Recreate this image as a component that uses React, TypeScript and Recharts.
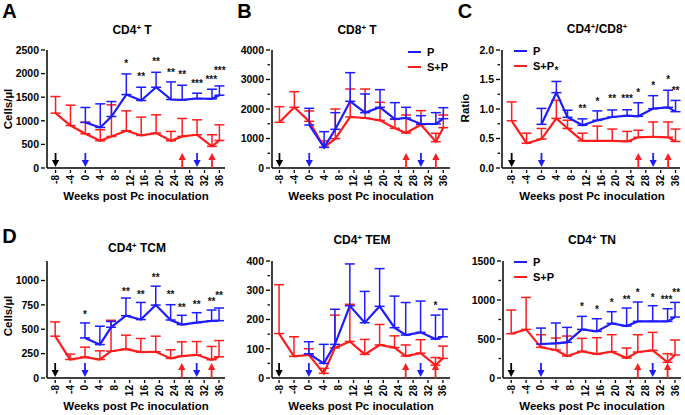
import React from "react";
import { ComposedChart, Line, XAxis, YAxis, ErrorBar, ReferenceDot } from "recharts";

const BLUE = "#1c1cff";
const RED = "#ff1c1c";
const FONT = '"Liberation Sans", Arial, sans-serif';

// sampling weeks (relative to Pc inoculation)
const spWeeks = [-8, -4, 0, 4, 7, 11, 15, 19, 23, 26, 30, 34, 36];
const pWeeks = [0, 4, 7, 11, 15, 19, 23, 26, 30, 34, 36];
const xTicks = [-8, -4, 0, 4, 8, 12, 16, 20, 24, 28, 32, 36];

// treatment arrows along the x axis
const arrowWeeks = [-8, 0, 26, 30, 34];
const arrowColors = ["#000", BLUE, RED, BLUE, RED];
const arrowUp = [false, false, true, false, true];

// A: CD4+ T
const cd4tP = [965, 859, 1091, 1556, 1430, 1711, 1451, 1444, 1472, 1465, 1542];
const cd4tPSd = [317, 500, 317, 437, 281, 317, 373, 309, 112, 204, 197];
const cd4tSP = [1162, 901, 725, 577, 669, 789, 690, 739, 577, 669, 704, 458, 584];
const cd4tSPSd = [352, 430, 247, 233, 669, 422, 387, 388, 198, 380, 317, 246, 331];
const cd4tStarWeeks = [11, 15, 19, 23, 26, 30, 33.8, 36.1];
const cd4tStarLevels = [2253, 1972, 2289, 2063, 2021, 1831, 1916, 2113];
const cd4tStars = ["*", "**", "**", "**", "**", "***", "***", "***"];

// B: CD8+ T
const cd8tP = [1458, 700, 1311, 2260, 1876, 2057, 1661, 1695, 1492, 1492, 1672];
const cd8tPSd = [565, 532, 565, 972, 633, 599, 554, 362, 282, 384, 373];
const cd8tSP = [1548, 2057, 1582, 700, 994, 1729, 1695, 1616, 1345, 1187, 1469, 893, 1367];
const cd8tSPSd = [531, 531, 350, 215, 1006, 949, 983, 610, 305, 610, 475, 282, 430];

// C: CD4/CD8 ratio
const ratioP = [0.74, 1.277, 0.859, 0.723, 0.808, 0.864, 0.887, 0.876, 1.006, 1.028, 0.955];
const ratioPSd = [0.27, 0.19, 0.12, 0.11, 0.16, 0.12, 0.1, 0.23, 0.22, 0.29, 0.19];
const ratioSP = [0.8, 0.42, 0.49, 0.84, 0.67, 0.46, 0.46, 0.46, 0.45, 0.52, 0.53, 0.52, 0.45];
const ratioSPSd = [0.32, 0.17, 0.18, 0.31, 0.14, 0.13, 0.25, 0.2, 0.17, 0.12, 0.25, 0.26, 0.21];
const ratioStarWeeks = [4, 11, 15, 19, 23, 26, 30, 34, 36];
const ratioStarLevels = [1.68, 1.04, 1.16, 1.21, 1.21, 1.32, 1.435, 1.53, 1.35];
const ratioStars = ["*", "**", "*", "**", "***", "*", "*", "*", "**"];

// D: CD4+ TCM
const tcmP = [411, 343, 520, 639, 599, 748, 595, 548, 568, 585, 588];
const tcmPSd = [154, 188, 60, 181, 176, 194, 157, 95, 102, 112, 130];
const tcmSP = [429, 190, 214, 190, 275, 296, 265, 269, 201, 224, 238, 187, 218];
const tcmSPSd = [146, 55, 102, 89, 317, 143, 140, 160, 88, 147, 136, 136, 166];
const tcmStarWeeks = [0, 11, 15, 19, 23, 26, 30, 34, 36];
const tcmStarLevels = [670, 908, 881, 1051, 874, 745, 779, 806, 871];
const tcmStars = ["*", "**", "**", "**", "**", "**", "**", "**", "**"];

// E: CD4+ TEM
const temP = [83, 50, 115, 247, 189, 245, 172, 147, 156, 133, 141];
const temPSd = [41, 65, 120, 143, 107, 129, 108, 111, 107, 82, 94];
const temSP = [152, 74, 79, 16, 103, 125, 81, 113, 104, 75, 85, 44, 67];
const temSPSd = [167, 67, 21, 17, 112, 127, 51, 70, 40, 38, 46, 26, 42];
const temStarWeeks = [34];
const temStarLevels = [255];
const temStars = ["*"];

// F: CD4+ TN
const tnP = [436, 444, 457, 623, 598, 700, 666, 726, 726, 726, 781];
const tnPSd = [204, 261, 192, 167, 162, 150, 231, 248, 201, 162, 188];
const tnSP = [568, 623, 393, 359, 282, 342, 307, 337, 256, 333, 354, 201, 295];
const tnSPSd = [303, 410, 162, 153, 256, 166, 210, 218, 128, 222, 231, 111, 192];
const tnStarWeeks = [11, 15, 19, 23, 26, 30, 33.7, 36.3];
const tnStarLevels = [939, 910, 991, 1038, 1119, 1059, 1033, 1123];
const tnStars = ["*", "*", "*", "**", "*", "*", "***", "**"];

const Y_W = 45;
const PLOT_W = 178;
const WEEK_SPAN = 47.8;

const XTick = (props: any) => {
  const { x, y, payload } = props;
  const ty = y + 5;
  return (
    <g>
      <line x1={x} x2={x} y1={y} y2={y + 3} stroke="#000" strokeWidth={1.3} />
      <text
        x={x}
        y={ty}
        dy="0.35em"
        transform={`rotate(-90 ${x} ${ty})`}
        textAnchor="end"
        fontFamily={FONT}
        fontWeight={700}
        fontSize={10}
        fill="#000"
      >
        {payload.value}
      </text>
    </g>
  );
};

const YTick = (props: any) => {
  const { x, y, payload, majors, fmt } = props;
  const major = majors.includes(payload.value);
  return (
    <g>
      <line x1={x} x2={x - (major ? 4 : 2.5)} y1={y} y2={y} stroke="#000" strokeWidth={1.3} />
      {major && (
        <text x={x - 6} y={y} dy="0.36em" textAnchor="end" fontFamily={FONT} fontWeight={700} fontSize={10.5} fill="#000">
          {fmt ? fmt(payload.value) : payload.value}
        </text>
      )}
    </g>
  );
};

function Arrow({ cx, cy, color, up }: { cx: number; cy: number; color: string; up: boolean }) {
  const len = 15;
  const head = 7;
  const hw = 3.6;
  if (up) {
    const tip = cy - len;
    return (
      <g>
        <line x1={cx} x2={cx} y1={cy} y2={tip + head - 1} stroke={color} strokeWidth={1.8} />
        <polygon points={`${cx},${tip} ${cx - hw},${tip + head} ${cx + hw},${tip + head}`} fill={color} />
      </g>
    );
  }
  const tip = cy - 1;
  return (
    <g>
      <line x1={cx} x2={cx} y1={cy - len} y2={tip - head + 1} stroke={color} strokeWidth={1.8} />
      <polygon points={`${cx},${tip} ${cx - hw},${tip - head} ${cx + hw},${tip - head}`} fill={color} />
    </g>
  );
}

type PanelProps = {
  plotLeft: number;
  plotTop: number;
  plotHeight: number;
  xMin: number;
  yMax: number;
  yMajor: number[];
  yMinor: number[];
  yFmt?: (v: number) => string;
  p: number[];
  pSd: number[];
  sp: number[];
  spSd: number[];
  starWeeks: number[];
  starLevels: number[];
  stars: string[];
};

function Panel(props: PanelProps) {
  const { plotLeft, plotTop, plotHeight, xMin, yMax, yMajor, yMinor, yFmt, p, pSd, sp, spSd } = props;
  const pData = pWeeks.map((week, i) => ({ week, value: p[i], err: [0, pSd[i]] }));
  const spData = spWeeks.map((week, i) => ({ week, value: sp[i], err: [0, spSd[i]] }));
  const yTicks = [...yMajor, ...yMinor].sort((a, b) => a - b);

  return (
    <div style={{ position: "absolute", left: plotLeft - Y_W, top: plotTop - 5 }}>
      <ComposedChart width={Y_W + PLOT_W + 4} height={5 + plotHeight + 30} margin={{ top: 5, right: 4, bottom: 0, left: 0 }}>
        <XAxis
          type="number"
          dataKey="week"
          domain={[xMin, xMin + WEEK_SPAN]}
          allowDataOverflow
          ticks={xTicks}
          interval={0}
          height={30}
          tickSize={0}
          tickLine={false}
          axisLine={{ stroke: "#000", strokeWidth: 1.5 }}
          tick={<XTick />}
        />
        <YAxis
          type="number"
          domain={[0, yMax]}
          allowDataOverflow
          ticks={yTicks}
          interval={0}
          width={Y_W}
          tickSize={0}
          tickLine={false}
          axisLine={{ stroke: "#000", strokeWidth: 1.5 }}
          tick={<YTick majors={yMajor} fmt={yFmt} />}
        />
        <Line data={spData} dataKey="value" stroke={RED} strokeWidth={2.2} dot={false} activeDot={false} isAnimationActive={false}>
          <ErrorBar dataKey="err" width={5} stroke={RED} strokeWidth={1.5} direction="y" />
        </Line>
        <Line data={pData} dataKey="value" stroke={BLUE} strokeWidth={2.2} dot={false} activeDot={false} isAnimationActive={false}>
          <ErrorBar dataKey="err" width={5} stroke={BLUE} strokeWidth={1.5} direction="y" />
        </Line>
        {arrowWeeks.map((w, i) => (
          <ReferenceDot
            key={`arrow-${i}`}
            x={w}
            y={0}
            r={0}
            ifOverflow="visible"
            shape={(s: any) => <Arrow cx={s.cx} cy={s.cy} color={arrowColors[i]} up={arrowUp[i]} />}
          />
        ))}
        {props.starWeeks.map((w, i) => (
          <ReferenceDot
            key={`star-${i}`}
            x={w}
            y={props.starLevels[i]}
            r={0}
            ifOverflow="visible"
            shape={(s: any) => (
              <text x={s.cx} y={s.cy + 5.5} textAnchor="middle" fontFamily={FONT} fontWeight={700} fontSize={10} fill="#111">
                {props.stars[i]}
              </text>
            )}
          />
        ))}
      </ComposedChart>
    </div>
  );
}

const textBase: React.CSSProperties = {
  position: "absolute",
  fontFamily: FONT,
  fontWeight: 700,
  color: "#000",
  lineHeight: 1,
  whiteSpace: "nowrap",
  transform: "translate(-50%, -50%)",
};

function Label({ x, y, size, children, rotate }: { x: number; y: number; size: number; children: React.ReactNode; rotate?: boolean }) {
  return (
    <div style={{ ...textBase, left: x, top: y, fontSize: size, transform: rotate ? "translate(-50%, -50%) rotate(-90deg)" : textBase.transform }}>
      {children}
    </div>
  );
}

const Sup = ({ children }: { children: React.ReactNode }) => (
  <span style={{ fontSize: "0.65em", position: "relative", top: "-0.55em" }}>{children}</span>
);

function Legend({ x, y }: { x: number; y: number }) {
  const row = (color: string, label: string, top: number) => (
    <div style={{ position: "absolute", left: x, top: top - 7, height: 14, display: "flex", alignItems: "center" }}>
      <div style={{ width: 13, height: 2.5, background: color }} />
      <div style={{ marginLeft: 6, fontFamily: FONT, fontWeight: 700, fontSize: 11, lineHeight: 1 }}>{label}</div>
    </div>
  );
  return (
    <>
      {row(BLUE, "P", y)}
      {row(RED, "S+P", y + 15)}
    </>
  );
}

export default function App() {
  const ratioFmt = (v: number) => v.toFixed(1);
  return (
    <div style={{ position: "absolute", left: 0, top: 0, width: 685, height: 415, background: "#fff", overflow: "hidden" }}>
      <Panel plotLeft={47} plotTop={50} plotHeight={118} xMin={-10.3} yMax={2500}
        yMajor={[0, 500, 1000, 1500, 2000, 2500]} yMinor={[]}
        p={cd4tP} pSd={cd4tPSd} sp={cd4tSP} spSd={cd4tSPSd}
        starWeeks={cd4tStarWeeks} starLevels={cd4tStarLevels} stars={cd4tStars} />
      <Panel plotLeft={272} plotTop={50} plotHeight={118} xMin={-10} yMax={4000}
        yMajor={[0, 1000, 2000, 3000, 4000]} yMinor={[500, 1500, 2500, 3500]}
        p={cd8tP} pSd={cd8tPSd} sp={cd8tSP} spSd={cd8tSPSd}
        starWeeks={[]} starLevels={[]} stars={[]} />
      <Panel plotLeft={502} plotTop={50} plotHeight={118} xMin={-10.6} yMax={2}
        yMajor={[0, 0.5, 1, 1.5, 2]} yMinor={[0.25, 0.75, 1.25, 1.75]} yFmt={ratioFmt}
        p={ratioP} pSd={ratioPSd} sp={ratioSP} spSd={ratioSPSd}
        starWeeks={ratioStarWeeks} starLevels={ratioStarLevels} stars={ratioStars} />
      <Panel plotLeft={47} plotTop={261} plotHeight={117} xMin={-10.2} yMax={1200}
        yMajor={[0, 250, 500, 750, 1000]} yMinor={[]}
        p={tcmP} pSd={tcmPSd} sp={tcmSP} spSd={tcmSPSd}
        starWeeks={tcmStarWeeks} starLevels={tcmStarLevels} stars={tcmStars} />
      <Panel plotLeft={272} plotTop={261} plotHeight={117} xMin={-9.9} yMax={400}
        yMajor={[0, 100, 200, 300, 400]} yMinor={[50, 150, 250, 350]}
        p={temP} pSd={temPSd} sp={temSP} spSd={temSPSd}
        starWeeks={temStarWeeks} starLevels={temStarLevels} stars={temStars} />
      <Panel plotLeft={503} plotTop={261} plotHeight={117} xMin={-10.2} yMax={1500}
        yMajor={[0, 500, 1000, 1500]} yMinor={[250, 750, 1250]}
        p={tnP} pSd={tnPSd} sp={tnSP} spSd={tnSPSd}
        starWeeks={tnStarWeeks} starLevels={tnStarLevels} stars={tnStars} />

      {/* panel letters */}
      <Label x={9.5} y={10.5} size={20}>A</Label>
      <Label x={244.5} y={10.5} size={20}>B</Label>
      <Label x={465} y={10.5} size={20}>C</Label>
      <Label x={9.5} y={235.5} size={20}>D</Label>

      {/* titles */}
      <Label x={132} y={30} size={12}>CD4<Sup>+</Sup> T</Label>
      <Label x={357} y={30} size={12}>CD8<Sup>+</Sup> T</Label>
      <Label x={597} y={29} size={12}>CD4<Sup>+</Sup>/CD8<Sup>+</Sup></Label>
      <Label x={137} y={248} size={12}>CD4<Sup>+</Sup> TCM</Label>
      <Label x={362} y={240} size={12}>CD4<Sup>+</Sup> TEM</Label>
      <Label x={592} y={240} size={12}>CD4<Sup>+</Sup> TN</Label>

      {/* y axis titles */}
      <Label x={9} y={109} size={11.5} rotate>Cells/µl</Label>
      <Label x={466} y={108} size={11.5} rotate>Ratio</Label>
      <Label x={9} y={316} size={11.5} rotate>Cells/µl</Label>

      {/* x axis titles */}
      <Label x={136} y={197} size={11.5}>Weeks post Pc inoculation</Label>
      <Label x={361} y={197} size={11.5}>Weeks post Pc inoculation</Label>
      <Label x={592} y={197} size={11.5}>Weeks post Pc inoculation</Label>
      <Label x={136} y={407} size={11.5}>Weeks post Pc inoculation</Label>
      <Label x={361} y={407} size={11.5}>Weeks post Pc inoculation</Label>
      <Label x={592} y={407} size={11.5}>Weeks post Pc inoculation</Label>

      <Legend x={408} y={52} />
      <Legend x={514} y={51} />
      <Legend x={514} y={262} />
    </div>
  );
}
